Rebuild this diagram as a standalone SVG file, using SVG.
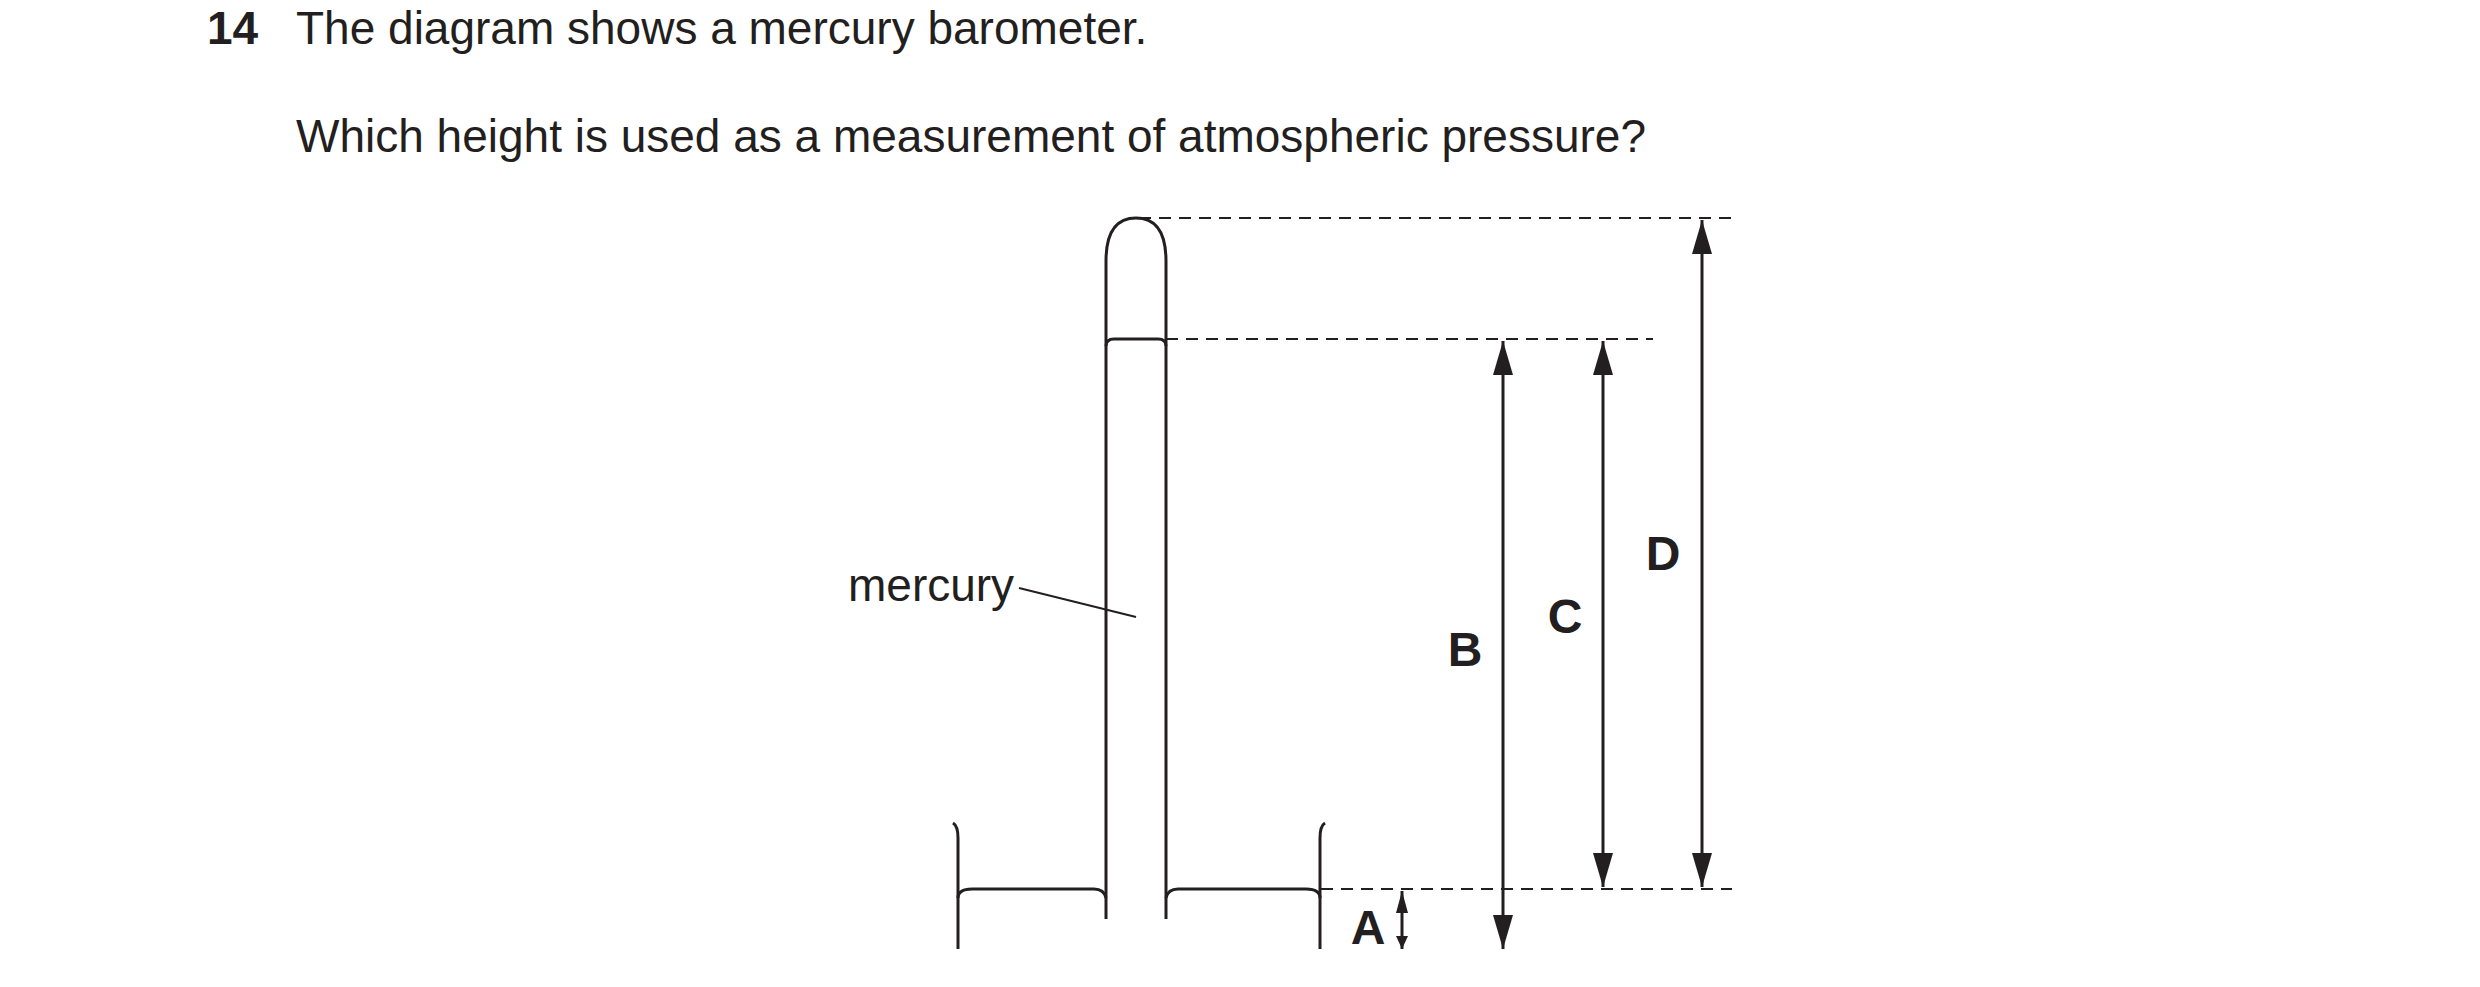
<svg xmlns="http://www.w3.org/2000/svg" width="2480" height="987" viewBox="0 0 2480 987">
<defs>
<marker id="ah" markerUnits="userSpaceOnUse" markerWidth="34" markerHeight="20" viewBox="0 0 34 20" refX="34" refY="10" orient="auto-start-reverse"><path d="M0,0 L34,10 L0,20 Z" fill="#231f20"/></marker>
</defs>
<style>
.t{font-family:"Liberation Sans",Arial,sans-serif;font-size:46px;fill:#231f20}
.b{font-family:"Liberation Sans",Arial,sans-serif;font-weight:bold;fill:#231f20}
.l{stroke:#231f20;stroke-width:3;fill:none}
.d{stroke:#231f20;stroke-width:2;stroke-dasharray:12 8;fill:none}
</style>
<rect width="2480" height="987" fill="#fff"/>
<text class="b" x="207" y="44" font-size="46">14</text>
<text class="t" x="296" y="44">The diagram shows a mercury barometer.</text>
<text class="t" x="296" y="152">Which height is used as a measurement of atmospheric pressure?</text>
<g id="tube"><path class="l" d="M1106,919 V261 Q1106,218 1136,218 Q1166,218 1166,261 V919"/>
<path class="l" d="M1106,346 Q1106,339 1114,339 H1158 Q1166,339 1166,346"/></g>
<g id="dish"><path class="l" d="M953,823 Q958,826 958,838 V949"/>
<path class="l" d="M958,898 Q958,889 972,889 H1094 Q1104,889 1106,898"/>
<path class="l" d="M1166,898 Q1168,889 1178,889 H1306 Q1320,889 1320,898"/>
<path class="l" d="M1325,823 Q1320,826 1320,838 V949"/></g>
<g id="mercury"><text class="t" x="848" y="601">mercury</text><path stroke="#231f20" stroke-width="2" d="M1019,588 L1136,617"/></g>
<g id="connectors">
<path class="d" d="M1139,218 H1732 M1166,339 H1653 M1321,889 H1732"/>
<path class="l" marker-start="url(#ah)" marker-end="url(#ah)" d="M1503,341 V949"/>
<path class="l" marker-start="url(#ah)" marker-end="url(#ah)" d="M1603,341 V887"/>
<path class="l" marker-start="url(#ah)" marker-end="url(#ah)" d="M1702,220 V887"/>
<path class="l" stroke-width="2" d="M1402,891 V949"/>
<path d="M1396,913 L1402,891 L1408,913 Z M1396,936 L1402,949 L1408,936 Z" fill="#231f20"/>
</g>
<g id="labels">
<text class="b" font-size="48" x="1368" y="944" text-anchor="middle">A</text>
<text class="b" font-size="48" x="1465" y="666" text-anchor="middle">B</text>
<text class="b" font-size="48" x="1565" y="633" text-anchor="middle">C</text>
<text class="b" font-size="48" x="1663" y="570" text-anchor="middle">D</text>
</g>
</svg>
